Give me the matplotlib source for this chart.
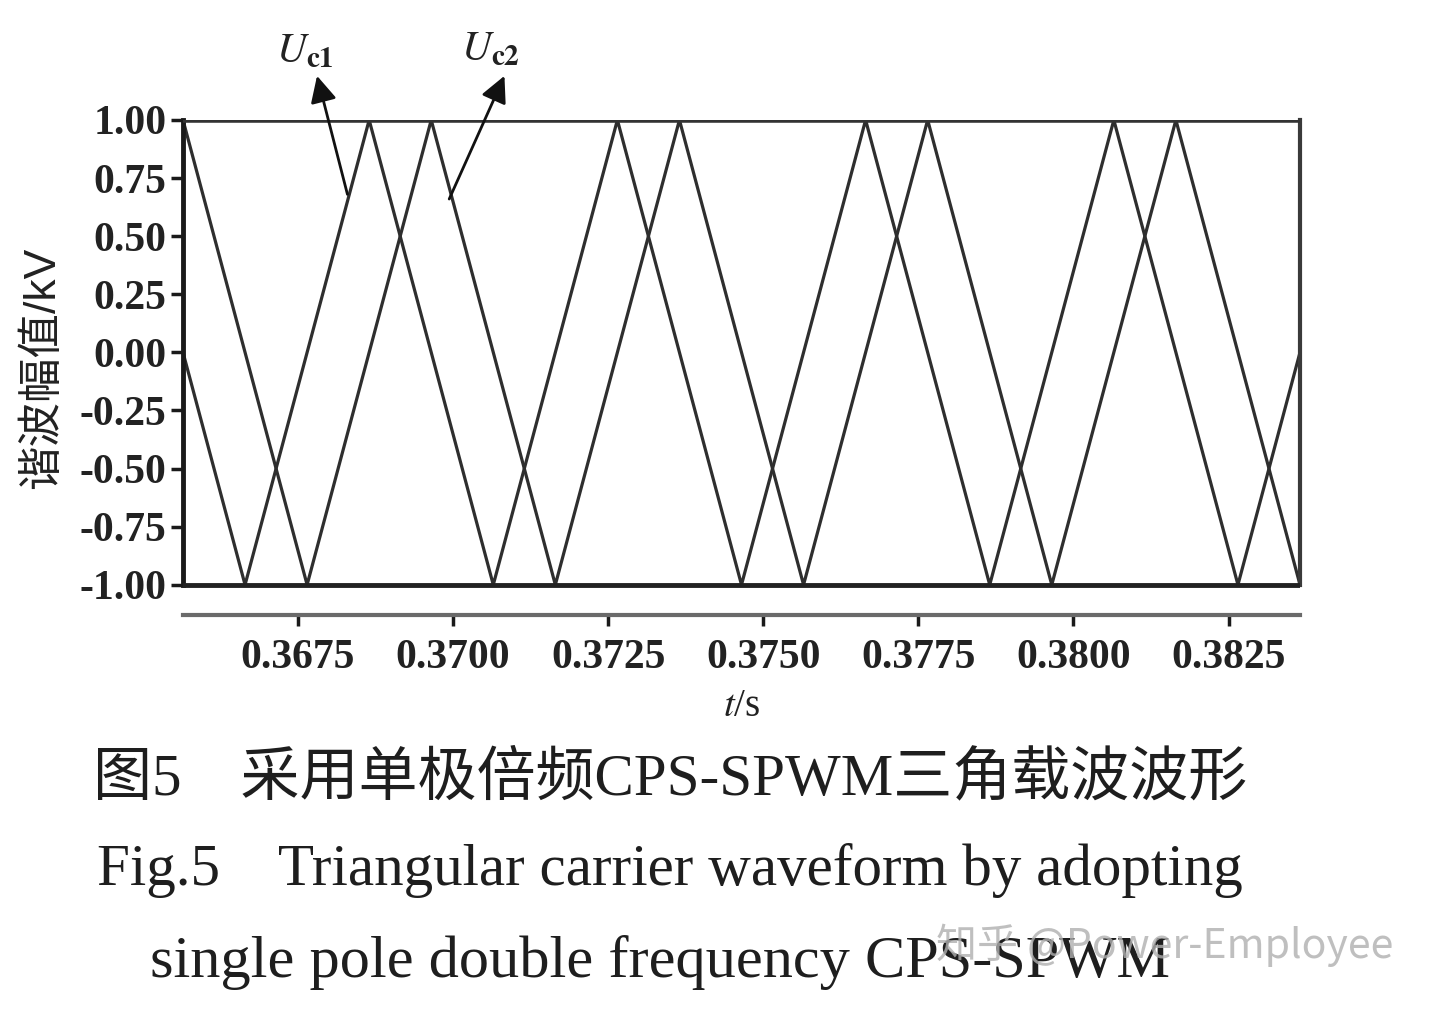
import numpy as np
import matplotlib
matplotlib.use("Agg")
import matplotlib.pyplot as plt

plt.rcParams['mathtext.fontset'] = 'stix'

# carrier vertices (time in s, amplitude in kV)
t_c1 = [0.36565, 0.36665, 0.36865, 0.37065, 0.37265, 0.37465, 0.37665, 0.37865, 0.38065, 0.38265, 0.38365]
u_c1 = [0.0, -1.0, 1.0, -1.0, 1.0, -1.0, 1.0, -1.0, 1.0, -1.0, 0.0]
t_c2 = [0.36565, 0.36765, 0.36965, 0.37165, 0.37365, 0.37565, 0.37765, 0.37965, 0.38165, 0.38365]
u_c2 = [1.0, -1.0, 1.0, -1.0, 1.0, -1.0, 1.0, -1.0, 1.0, -1.0]

x_ticks = [0.3675, 0.3700, 0.3725, 0.3750, 0.3775, 0.3800, 0.3825]
y_ticks = [1.00, 0.75, 0.50, 0.25, 0.00, -0.25, -0.50, -0.75, -1.00]

t_min, t_max = 0.36565, 0.38365
y_bottom = -1.13

fig = plt.figure(figsize=(14.4, 10.09), dpi=100)
ax = fig.add_axes([183 / 1440, 1 - 615 / 1009, 1117 / 1440, 495 / 1009])

line_col = '#2e2e2e'
ax.plot(t_c1, u_c1, color=line_col, lw=2.3, solid_joinstyle='miter')
ax.plot(t_c2, u_c2, color=line_col, lw=2.3, solid_joinstyle='miter')
ax.axhline(1.0, color='#333333', lw=4, zorder=3)
ax.axhline(-1.0, color='#222222', lw=3.5, zorder=3)

ax.set_xlim(t_min, t_max)
ax.set_ylim(y_bottom, 1.0)

ax.spines['top'].set_visible(False)
ax.spines['left'].set_bounds(-1.0, 1.0)
ax.spines['left'].set_linewidth(3.5)
ax.spines['left'].set_color('#1a1a1a')
ax.spines['right'].set_bounds(-1.0, 1.0)
ax.spines['right'].set_linewidth(3)
ax.spines['right'].set_color('#3a3a3a')
ax.spines['bottom'].set_linewidth(3)
ax.spines['bottom'].set_color('#6a6a6a')

ax.set_xticks(x_ticks)
ax.set_xticklabels([f"{v:.4f}" for v in x_ticks])
ax.set_yticks(y_ticks)
ax.set_yticklabels([f"{v:.2f}" for v in y_ticks])
ax.tick_params(axis='both', direction='out', width=2.5, color='#1a1a1a')
ax.tick_params(axis='y', length=9, pad=3)
ax.tick_params(axis='x', length=8, pad=9)
for lab in ax.get_xticklabels() + ax.get_yticklabels():
    lab.set_fontfamily('Liberation Serif')
    lab.set_fontweight('bold')
    lab.set_fontsize(30)
    lab.set_color('#222222')

ax.set_xlabel(r"$t$/s", fontsize=28, family='Liberation Serif', labelpad=8, color='#222222')
ax.set_ylabel("谐波幅值/kV", fontsize=32, family=['Liberation Sans', 'Noto Sans CJK SC'],
              labelpad=12, color='#222222')

# carrier labels with arrows
ax.annotate('', xy=(0.36781, 1.19), xytext=(0.3683, 0.68), annotation_clip=False,
            arrowprops=dict(arrowstyle='-|>', color='#111111', lw=2, mutation_scale=40,
                            shrinkA=0, shrinkB=0))
ax.annotate('', xy=(0.37083, 1.19), xytext=(0.36994, 0.66), annotation_clip=False,
            arrowprops=dict(arrowstyle='-|>', color='#111111', lw=2, mutation_scale=40,
                            shrinkA=0, shrinkB=0))
ax.text(0.36762, 1.30, r"$U_{\mathbf{c1}}$", fontsize=30, ha='center', va='center',
        color='#222222', clip_on=False)
ax.text(0.37060, 1.31, r"$U_{\mathbf{c2}}$", fontsize=30, ha='center', va='center',
        color='#222222', clip_on=False)

# caption
fig.text(93 / 1440, 1 - 780 / 1009, "图5\u3000采用单极倍频CPS-SPWM三角载波波形",
         family=['Liberation Serif', 'Noto Sans CJK SC'], fontsize=42.5,
         ha='left', va='center', color='#1e1e1e')
fig.text(97 / 1440, 1 - 870 / 1009, "Fig.5    Triangular carrier waveform by adopting",
         family='Liberation Serif', fontsize=42.5, ha='left', va='center', color='#1e1e1e')
fig.text(660 / 1440, 1 - 962 / 1009, "single pole double frequency CPS-SPWM",
         family='Liberation Serif', fontsize=43.5, ha='center', va='center', color='#1e1e1e')
fig.text(1165 / 1440, 1 - 945 / 1009, "知乎 @Power-Employee",
         family=['Noto Sans CJK SC', 'DejaVu Sans'], fontsize=29.5,
         ha='center', va='center', color='#b0b0b0', alpha=0.8)

fig.savefig("out.png", dpi=100)
